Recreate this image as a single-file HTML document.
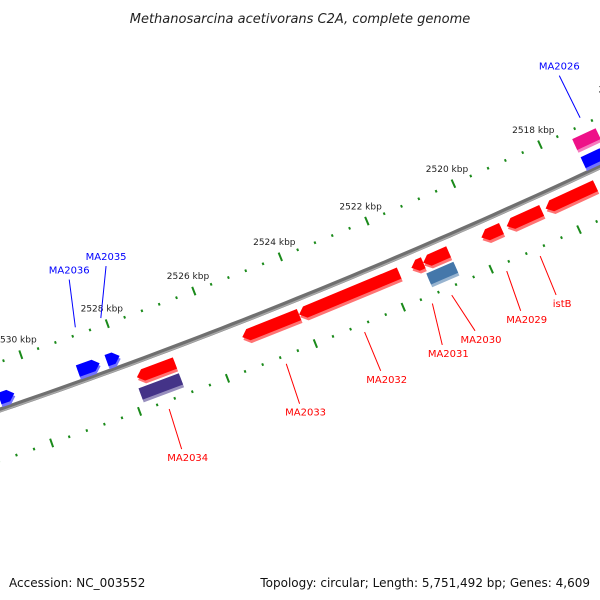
<!DOCTYPE html>
<html><head><meta charset="utf-8"><style>
body{margin:0;background:#fff}
svg{display:block;font-family:"DejaVu Sans","Liberation Sans",sans-serif}
</style></head><body>
<svg id="map" width="600" height="600" viewBox="0 0 600 600">
<text x="300" y="23" text-anchor="middle" font-size="13" font-style="italic" fill="#222">Methanosarcina acetivorans C2A, complete genome</text>
<text x="9" y="587" font-size="12" fill="#111">Accession: NC_003552</text>
<text x="590" y="587" font-size="12" fill="#111" text-anchor="end">Topology: circular; Length: 5,751,492 bp; Genes: 4,609</text>
</svg>
<script>
// data
const majorTicks = [2514, 2516, 2518, 2520, 2522, 2524, 2526, 2528, 2530, 2532];
const tickLabels = ["2514 kbp","2516 kbp","2518 kbp","2520 kbp","2522 kbp","2524 kbp","2526 kbp","2528 kbp","2530 kbp","2532 kbp"];
const geneNames  = ["g-left","MA2036","MA2035","MA2026","MA2026b","MA2034","MA2034b","MA2033","MA2032","MA2031","MA2030","MA2030b","MA2029","istB","g-right"];
const geneStart  = [2530.75, 2528.95, 2528.29, 2517.34, 2517.34, 2527.80, 2527.85, 2525.39, 2524.09, 2521.52, 2521.25, 2521.28, 2519.92, 2519.34, 2518.45];
const geneEnd    = [2530.41, 2528.45, 2527.99, 2516.9,  2516.8,  2526.93, 2526.93, 2524.09, 2521.80, 2521.25, 2520.67, 2520.66, 2519.46, 2518.54, 2517.31];
const geneTrack  = ["fwd","fwd","fwd","fwd","fwd2","rev","rev2","rev","rev","rev","rev","rev2","rev","rev","rev"];
const geneColor  = ["#0000ff","#0000ff","#0000ff","#0000ff","#ee1188","#ff0000","#443388","#ff0000","#ff0000","#ff0000","#ff0000","#4477aa","#ff0000","#ff0000","#ff0000"];
const geneArrow  = [1,1,1,0,0,1,0,1,1,1,1,0,1,1,1];
const labelNames = ["MA2036","MA2035","MA2026","MA2034","MA2033","MA2032","MA2031","MA2030","MA2029","istB"];
const labelKbpA  = [2528.68, 2528.09, 2517.0, 2527.39, 2524.73, 2522.95, 2521.41, 2520.97, 2519.72, 2518.96];
const labelKbpB  = [2528.45, 2527.59, 2517.02, 2527.44, 2524.78, 2522.95, 2521.56, 2520.82, 2519.79, 2518.99];
const labelSide  = ["out","out","out","in","in","in","in","in","in","in"];
const labelColor = ["#0000ff","#0000ff","#0000ff","#ff0000","#ff0000","#ff0000","#ff0000","#ff0000","#ff0000","#ff0000"];

const svg = document.getElementById('map');
const NS = 'http://www.w3.org/2000/svg';
const QA = -1.056e-4, QB = -0.3417, QC = 410;
const D_OUT = 45.5, D_IN = -48;
const TRACK = {fwd:[5,17], fwd2:[25,37], rev:[-21,-9], rev2:[-38,-26]};
function X(k){ return 559 - (k-2518)*43.6; }
function pt(k, d){
  const xb = X(k), yb = QA*xb*xb + QB*xb + QC;
  const s = 2*QA*xb + QB, n = Math.sqrt(1+s*s);
  return [xb + d*s/n, yb - d/n];
}
function mk(tag, attrs){ const e = document.createElementNS(NS, tag); for (const k in attrs) e.setAttribute(k, attrs[k]); svg.appendChild(e); return e; }
function arcPath(d0, k0, k1){ let d=''; for(let k=k0;k>=k1-1e-9;k-=0.25){ const p=pt(k,d0); d+=(d?'L':'M')+p[0].toFixed(1)+','+p[1].toFixed(1);} return d; }

// backbone
let bb = mk('path',{d:arcPath(0,2532,2516),stroke:'#707070','stroke-width':5,fill:'none'});


let bb2 = mk('path',{d:arcPath(-1.5,2532,2516),stroke:'#a8a8a8','stroke-width':1.5,fill:'none'});



// ticks
for (let k = 2512; k <= 2534.01; k += 0.4) {
  const kk = Math.round(k*10)/10;
  const major = Math.abs(kk/2 - Math.round(kk/2)) < 1e-6;
  [D_OUT, D_IN].forEach((dd, idx) => {
    const len = major ? 4.5 : 1.3;
    const p0 = pt(kk, dd-len), p1 = pt(kk, dd+len);
    const t = mk('line',{x1:p0[0],y1:p0[1],x2:p1[0],y2:p1[1],stroke:'#1a8a1a','stroke-width':2});
    
    
  });
}
majorTicks.forEach((k,i) => {
  const p = pt(k, D_OUT+16);
  const t = mk('text',{x:p[0].toFixed(1),y:(p[1]+3).toFixed(1),'font-size':9,'text-anchor':'middle',fill:'#222'});
  t.textContent = tickLabels[i];
  
  
});

// genes
function lighten(c){ const n=parseInt(c.slice(1),16); let r=n>>16,g=(n>>8)&255,b=n&255; r=Math.round(r+(255-r)*0.45); g=Math.round(g+(255-g)*0.45); b=Math.round(b+(255-b)*0.45); return 'rgb('+r+','+g+','+b+')'; }
function genePath(s, e, r0, r1, arrow){
  const fwd = e > s;
  const head = arrow ? 0.14 : 0;
  const body = fwd ? e - head : e + head;
  const rm = (r0+r1)/2;
  const pts = [pt(s,r0), pt(body,r0), pt(e,rm), pt(body,r1), pt(s,r1)];
  return 'M'+pts.map(p=>p[0].toFixed(1)+','+p[1].toFixed(1)).join('L')+'Z';
}
geneNames.forEach((n,i) => {
  const [r0,r1] = TRACK[geneTrack[i]];
  let s = geneStart[i], e = geneEnd[i];
  if (geneTrack[i].startsWith('rev')) { const t = s; s = e; e = t; }
  const sh = mk('path',{d:genePath(s,e,r0-3,r1-3,geneArrow[i]),fill:lighten(geneColor[i])});
  
  
  const g = mk('path',{d:genePath(s,e,r0,r1,geneArrow[i]),fill:geneColor[i]});
  
  
});

// labels
labelNames.forEach((n,i) => {
  const out = labelSide[i] === 'out';
  const a = pt(labelKbpA[i], out ? 53 : -56);
  const b = pt(labelKbpB[i], out ? 100 : -98);
  const l = mk('line',{x1:a[0],y1:a[1],x2:b[0],y2:b[1],stroke:labelColor[i],'stroke-width':1});
  
  
  const t = mk('text',{x:(out ? b[0] : b[0]+6).toFixed(1),y:(out ? b[1]-6 : b[1]+12).toFixed(1),'font-size':10,'text-anchor':'middle',fill:labelColor[i]});
  t.textContent = n;
  
  
});
</script>
</body></html>
